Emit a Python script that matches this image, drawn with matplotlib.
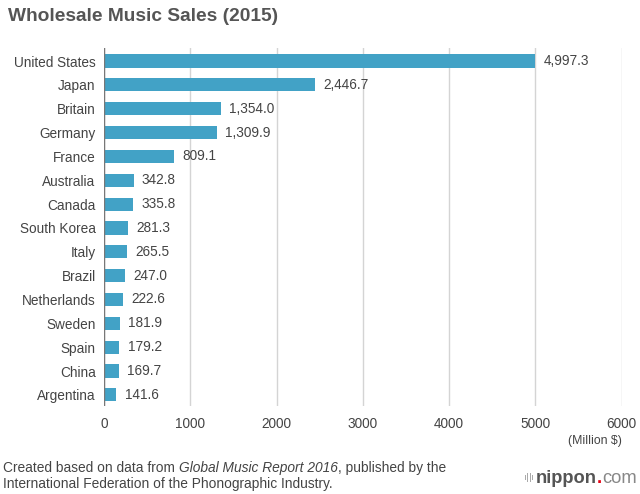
import matplotlib
matplotlib.use('Agg')
import matplotlib.pyplot as plt

plt.rcParams['font.family'] = ['Liberation Sans', 'DejaVu Sans']

countries = ['United States', 'Japan', 'Britain', 'Germany', 'France', 'Australia',
             'Canada', 'South Korea', 'Italy', 'Brazil', 'Netherlands', 'Sweden',
             'Spain', 'China', 'Argentina']
sales = [4997.3, 2446.7, 1354.0, 1309.9, 809.1, 342.8, 335.8, 281.3, 265.5,
         247.0, 222.6, 181.9, 179.2, 169.7, 141.6]
xticks = [0, 1000, 2000, 3000, 4000, 5000, 6000]

text_col = '#444444'
bar_col = '#42a2c6'

fig = plt.figure(figsize=(6.4, 4.94), dpi=100)
ax = fig.add_axes([0.1625, 0.178, 0.809, 0.725])

pos = list(range(len(countries)))
ax.barh(pos, sales, height=0.55, color=bar_col, zorder=3)
for p, v in zip(pos, sales):
    ax.annotate(f'{v:,.1f}', (v, p), xytext=(6, 0), textcoords='offset points',
                va='center', ha='left', fontsize=9.8, color=text_col)

ax.set_xlim(0, 6000)
ax.set_ylim(14.47, -0.55)
ax.set_yticks(pos)
ax.set_yticklabels(countries, fontsize=9.8, color=text_col)
ax.set_xticks(xticks)
ax.set_xticklabels([str(t) for t in xticks], fontsize=9.8, color=text_col)
ax.tick_params(length=0, pad=6)
ax.tick_params(axis='x', pad=8)
ax.xaxis.grid(True, color='#d4d4d4', linewidth=1, zorder=0)
ax.axvline(0, color='#777777', linewidth=1, zorder=4)
for s in ax.spines.values():
    s.set_visible(False)

fig.text(0.012, 0.967, 'Wholesale Music Sales (2015)', fontsize=13.8, fontweight='bold',
         color='#555555', va='center', ha='left')
fig.text(0.972, 0.107, '(Million $)', fontsize=8.8, color=text_col, ha='right', va='center')

r = fig.canvas.get_renderer()


def run_text(x_px, y_px, pieces, size):
    # draw consecutive pieces of text on one line, left to right
    for s, kw in pieces:
        t = fig.text(x_px / 640, y_px / 494, s, fontsize=size, va='baseline', ha='left', **kw)
        x_px += t.get_window_extent(r).width


run_text(3, 494 - 472, [('Created based on data from ', dict(color=text_col)),
                        ('Global Music Report 2016', dict(color=text_col, style='italic')),
                        (', published by the', dict(color=text_col))], 9.9)
run_text(3, 494 - 488, [('International Federation of the Phonographic Industry.', dict(color=text_col))], 9.9)

# nippon.com logo
for i, h in enumerate([5, 9, 9, 5]):
    fig.patches.append(plt.Rectangle(((525 + i * 2.3) / 640, (494 - 477 - h / 2) / 494), 1 / 640, h / 494,
                                     transform=fig.transFigure, facecolor='#aaaaaa', linewidth=0,
                                     figure=fig))
run_text(536, 494 - 483, [('nippon', dict(color='#555555', fontweight='bold')),
                          ('.', dict(color='#e60012', fontweight='bold')),
                          ('com', dict(color='#888888'))], 13.2)

fig.savefig('out.png', dpi=100)
